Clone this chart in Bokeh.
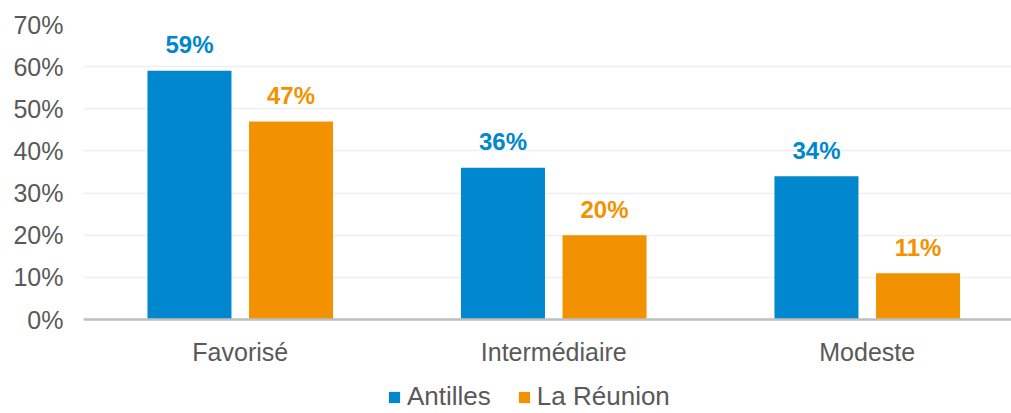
from bokeh.plotting import figure
from bokeh.models import (ColumnDataSource, FixedTicker, Legend, LegendItem,
                          NumeralTickFormatter, Range1d)
from bokeh.core.properties import value
from bokeh.embed import file_html
from bokeh.resources import INLINE

categories = ["Favorisé", "Intermédiaire", "Modeste"]
series_names = ["Antilles", "La Réunion"]
antilles = [0.59, 0.36, 0.34]
reunion = [0.47, 0.20, 0.11]
y_ticks = [0.0, 0.1, 0.2, 0.3, 0.4, 0.5, 0.6, 0.7]

BLUE = "#0087CD"
ORANGE = "#F39200"
TXT = "#595959"
FONT = "Liberation Sans"

W, H = 1011, 413
LEFT, TOP = 83, 24
PX_PER_UNIT_Y = 295 / 0.70
FRAME_H = H - TOP
y_start = -(FRAME_H - 295) / PX_PER_UNIT_Y
CAT_PX = 313.5

xs = [i + 0.5 for i in range(len(categories))]
off = 0.162
bw = 0.268

src_a = ColumnDataSource(dict(x=[x - off for x in xs], top=antilles,
                              lab=[f"{round(v*100)}%" for v in antilles]))
src_r = ColumnDataSource(dict(x=[x + off for x in xs], top=reunion,
                              lab=[f"{round(v*100)}%" for v in reunion]))

p = figure(width=W, height=H, output_backend="svg", toolbar_location=None,
           x_range=Range1d(0, (W - LEFT) / CAT_PX), y_range=Range1d(y_start, 0.70),
           min_border_left=LEFT, min_border_right=0, min_border_top=TOP,
           min_border_bottom=0)
p.outline_line_color = None
p.background_fill_color = "white"
p.border_fill_color = "white"

ra = p.vbar(x="x", top="top", width=bw, bottom=0, source=src_a,
            fill_color=BLUE, line_color=None)
rr = p.vbar(x="x", top="top", width=bw, bottom=0, source=src_r,
            fill_color=ORANGE, line_color=None)

for src, col in ((src_a, BLUE), (src_r, ORANGE)):
    p.text(x="x", y="top", text="lab", source=src, text_align="center",
           text_baseline="alphabetic", y_offset=-26, text_color=col,
           text_font=value(FONT), text_font_size="24px", text_font_style="bold")

# axes
p.xaxis.fixed_location = 0
p.xaxis.ticker = FixedTicker(ticks=xs)
p.xaxis.major_label_overrides = {x: c for x, c in zip(xs, categories)}
p.xaxis.major_tick_line_color = None
p.xaxis.minor_tick_line_color = None
p.xaxis.axis_line_color = "#BFBFBF"
p.xaxis.axis_line_width = 2.5
p.xaxis.major_label_text_font = FONT
p.xaxis.major_label_text_font_size = "25px"
p.xaxis.major_label_text_color = TXT
p.xaxis.major_label_standoff = 12

p.yaxis.ticker = FixedTicker(ticks=y_ticks)
p.yaxis.formatter = NumeralTickFormatter(format="0%")
p.yaxis.major_tick_line_color = None
p.yaxis.minor_tick_line_color = None
p.yaxis.axis_line_color = None
p.yaxis.major_label_text_font = FONT
p.yaxis.major_label_text_font_size = "25px"
p.yaxis.major_label_text_color = TXT
p.yaxis.major_label_standoff = 14

p.xgrid.grid_line_color = None
p.ygrid.grid_line_color = "#EFEFEF"
p.ygrid.grid_line_width = 1.5
p.ygrid.ticker = FixedTicker(ticks=y_ticks)

legend = Legend(items=[LegendItem(label=series_names[0], renderers=[ra]),
                       LegendItem(label=series_names[1], renderers=[rr])],
                location=(304, 1), orientation="horizontal",
                glyph_width=14, glyph_height=14, label_standoff=6, spacing=26,
                padding=0, margin=0, border_line_color=None,
                background_fill_alpha=0,
                label_text_font=FONT, label_text_font_size="26px",
                label_text_color=TXT)
p.add_layout(legend, "center")

open("out.html", "w").write(file_html(p, INLINE))
